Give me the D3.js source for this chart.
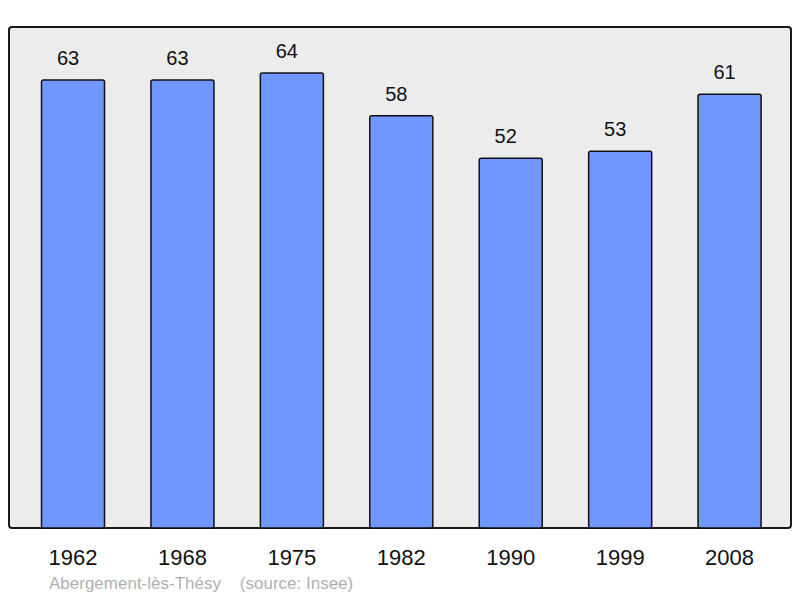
<!DOCTYPE html>
<html><head><meta charset="utf-8">
<script src="https://cdn.jsdelivr.net/npm/d3@7"></script>
<style>body{margin:0;background:#fff;}svg{display:block;font-family:"Liberation Sans",Arial,sans-serif;}</style>
</head><body>
<svg id="c" width="800" height="598"></svg>
<script>
const years = ["1962","1968","1975","1982","1990","1999","2008"];
const population = [63,63,64,58,52,53,61];
const sourceText = "Abergement-lès-Thésy    (source: Insee)";

const svg = d3.select("#c");
const panel = {x0:9, y0:27, x1:791, y1:528};
svg.append("rect").attr("x",panel.x0).attr("y",panel.y0)
  .attr("width",panel.x1-panel.x0).attr("height",panel.y1-panel.y0)
  .attr("rx",3).attr("fill","#ececec").attr("stroke","#1a1a1a").attr("stroke-width",2);

const x = d3.scaleBand().domain(years).range([18.3,784.3]).paddingInner(0.424).paddingOuter(0.212);
const y = d3.scaleLinear().domain([0,64]).range([528,73]);

svg.selectAll("rect.bar").data(years).join("rect").attr("class","bar")
  .attr("x",d=>x(d)).attr("width",x.bandwidth())
  .attr("y",(d,i)=>y(population[i])).attr("height",(d,i)=>y(0)-y(population[i]))
  .attr("rx",2).attr("fill","#7097ff").attr("stroke","#111").attr("stroke-width",1.5);

svg.selectAll("text.val").data(years).join("text").attr("class","val")
  .attr("x",d=>x(d)+x.bandwidth()/2-5).attr("y",(d,i)=>y(population[i])-15)
  .attr("text-anchor","middle").attr("font-size",20).attr("fill","#111")
  .text((d,i)=>population[i]);

svg.selectAll("text.yr").data(years).join("text").attr("class","yr")
  .attr("x",d=>x(d)+x.bandwidth()/2).attr("y",565)
  .attr("text-anchor","middle").attr("font-size",22).attr("fill","#111")
  .text(d=>d);

svg.append("text").attr("x",49).attr("y",589).attr("font-size",17).attr("fill","#b0b0b0")
  .attr("xml:space","preserve").style("white-space","pre").text(sourceText);
</script>
</body></html>
